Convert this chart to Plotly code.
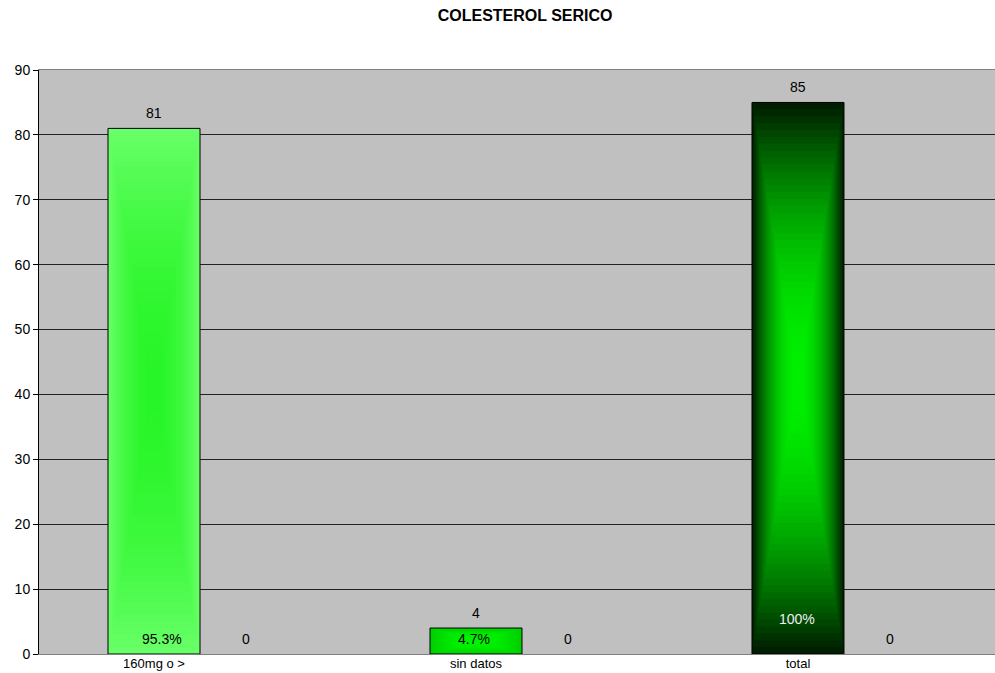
import numpy as np
import plotly.graph_objects as go

# ---- data ----
categories = ["160mg o >", "sin datos", "total"]
counts = [81, 4, 85]
series2 = [0, 0, 0]
pct_labels = ["95.3%", "4.7%", "100%"]
y_ticks = [0, 10, 20, 30, 40, 50, 60, 70, 80, 90]

# ---- style ----
FONT = "Liberation Sans, Arial, sans-serif"
BAR_W = 0.2857            # width of one bar in category units
edge_colors = [(104, 255, 104), (0, 205, 0), (0, 30, 0)]
center_colors = [(40, 245, 40), (0, 245, 0), (0, 240, 0)]
pct_colors = ["black", "black", "#f0f0f0"]
pct_yshift = [15, 15, 35]
pct_xshift = [8, -2, -1]
LEVELS = 40

xs = np.arange(len(categories))

fig = go.Figure()

# gradient fill: nested rectangles (from-center gradient)
gx, gbase, gy, goff, gwid, gcol = [], [], [], [], [], []
for i, v in enumerate(counts):
    e = np.array(edge_colors[i], float)
    c = np.array(center_colors[i], float)
    for lv in range(LEVELS):
        s = 1 - lv / LEVELS
        f = 1 - s ** 2
        col = e + (c - e) * f
        gx.append(xs[i])
        gbase.append(v / 2 - s * v / 2)
        gy.append(s * v)
        goff.append(-BAR_W / 2 - s * BAR_W / 2)
        gwid.append(s * BAR_W)
        gcol.append("rgb(%d,%d,%d)" % tuple(col.round().astype(int)))

fig.add_trace(go.Bar(x=gx, y=gy, base=gbase, offset=goff, width=gwid,
                     marker=dict(color=gcol, line=dict(width=0)),
                     hoverinfo="skip", showlegend=False))

# outline of series 1
fig.add_trace(go.Bar(x=xs, y=counts, offset=-BAR_W, width=BAR_W,
                     marker=dict(color="rgba(0,0,0,0)",
                                 line=dict(color="black", width=1)),
                     showlegend=False, name="serie 1"))

# series 2 (zeros)
fig.add_trace(go.Bar(x=xs, y=series2, offset=0, width=BAR_W,
                     marker=dict(color="rgba(0,0,0,0)",
                                 line=dict(color="black", width=0)),
                     showlegend=False, name="serie 2"))

ann = []
for i, v in enumerate(counts):
    ann.append(dict(x=xs[i] - BAR_W / 2, y=v, text=str(v), showarrow=False,
                    yshift=15, yanchor="middle",
                    font=dict(family=FONT, size=14, color="black")))
    ann.append(dict(x=xs[i] - BAR_W / 2, y=0, text=pct_labels[i], showarrow=False,
                    yshift=pct_yshift[i], xshift=pct_xshift[i], yanchor="middle",
                    font=dict(family=FONT, size=14, color=pct_colors[i])))
    ann.append(dict(x=xs[i] + BAR_W / 2, y=series2[i], text=str(series2[i]),
                    showarrow=False, yshift=15, yanchor="middle",
                    font=dict(family=FONT, size=14, color="black")))

fig.update_layout(
    template="none",
    width=995, height=673,
    margin=dict(l=39, r=0, t=70, b=19, autoexpand=False),
    paper_bgcolor="white",
    plot_bgcolor="#C0C0C0",
    barmode="overlay",
    font=dict(family=FONT, size=14, color="black"),
    title=dict(text="<b>COLESTEROL SERICO</b>", x=0.5085, xref="paper",
               y=1 - 15 / 673, yref="container", yanchor="middle", xanchor="center",
               font=dict(family=FONT, size=16, color="black")),
    annotations=ann,
    xaxis=dict(range=[-0.5, 2.469], tickvals=xs - BAR_W / 2, ticktext=categories,
               ticks="", showgrid=False, zeroline=False, showline=True,
               linecolor="#808080", linewidth=1, mirror=True, ticklabelstandoff=-3,
               tickfont=dict(family=FONT, size=13, color="black"), automargin=False),
    yaxis=dict(range=[0, 90], tickvals=y_ticks, ticks="outside", ticklen=5,
               tickcolor="black", showgrid=True, gridcolor="#222222", gridwidth=1,
               zeroline=False, showline=True, linecolor="black", linewidth=1,
               tickfont=dict(family=FONT, size=14, color="black"), automargin=False),
)

fig.write_html("out.html")
